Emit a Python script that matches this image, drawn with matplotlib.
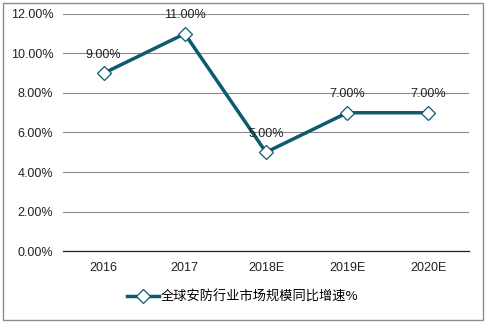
import matplotlib.pyplot as plt
from matplotlib.patches import Rectangle
from matplotlib.ticker import FuncFormatter

plt.rcParams['font.family'] = ['Noto Sans CJK SC', 'DejaVu Sans']

years = ["2016", "2017", "2018E", "2019E", "2020E"]
growth = [9.0, 11.0, 5.0, 7.0, 7.0]
series_name = "全球安防行业市场规模同比增速%"

line_color = "#0F5A6E"

fig = plt.figure(figsize=(4.86, 3.24), dpi=100)
ax = fig.add_axes([0.1296, 0.2253, 0.8354, 0.7315])

x = list(range(len(years)))
ax.plot(x, growth, color=line_color, linewidth=2.5, marker='D', markersize=7,
        markerfacecolor='white', markeredgecolor=line_color, markeredgewidth=0.9,
        label=series_name, zorder=3)

for xi, v in zip(x, growth):
    ax.annotate(f"{v:.2f}%", (xi, v), xytext=(0, 9), textcoords='offset points',
                ha='center', va='bottom', fontsize=9, color='#222222',
                family=['Liberation Sans', 'DejaVu Sans'])

ax.set_xlim(-0.5, len(years) - 0.5)
ax.set_ylim(0, 12)
ax.set_yticks([0, 2, 4, 6, 8, 10, 12])
ax.yaxis.set_major_formatter(FuncFormatter(lambda v, p: f"{v:.2f}%"))
ax.set_xticks(x)
ax.set_xticklabels(years)
for lab in ax.get_xticklabels() + ax.get_yticklabels():
    lab.set_family(['Liberation Sans', 'DejaVu Sans'])
    lab.set_fontsize(9)
    lab.set_color('#222222')

ax.tick_params(axis='y', length=0, pad=7)
ax.tick_params(axis='x', length=0, pad=8)
ax.grid(axis='y', color='#8c8c8c', linewidth=0.8)
ax.set_axisbelow(True)
for s in ['top', 'right', 'left']:
    ax.spines[s].set_visible(False)
ax.spines['bottom'].set_color('#222222')
ax.spines['bottom'].set_linewidth(0.9)

leg = fig.legend(loc='center', bbox_to_anchor=(0.5, 0.083), frameon=False,
                 fontsize=9.5, handlelength=2.4, handletextpad=0.15)

fig.patches.append(Rectangle((0.006, 0.012), 0.988, 0.978, transform=fig.transFigure,
                             fill=False, edgecolor='#8c8c8c', linewidth=1))

fig.savefig("out.png", dpi=100)
